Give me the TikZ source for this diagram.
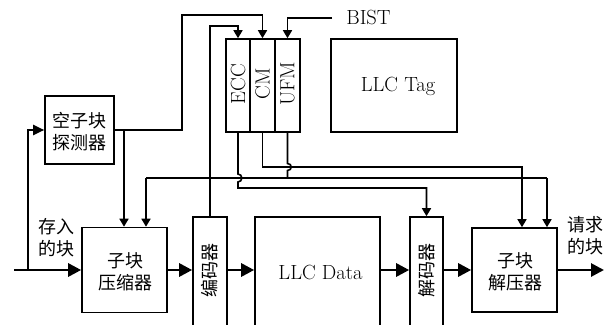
\documentclass[tikz,border=0pt]{standalone}
\usepackage{fontspec}
\newfontfamily\cjk{Noto Sans CJK SC}
\usetikzlibrary{arrows.meta}
\begin{document}
\begin{tikzpicture}[x=1pt,y=-1pt,
  box/.style={draw,line width=1.6pt,inner sep=0pt},
  latin/.style={font=\fontsize{20.5}{24}\selectfont,inner sep=0pt},
  cjkt/.style={font=\fontsize{18}{22}\selectfont\cjk,inner sep=0pt,align=center},
  wire/.style={line width=1.6pt},
  sarr/.style={-{Triangle[length=8pt,width=9pt]}},
  marr/.style={-{Triangle[length=11pt,width=10pt]}},
  data/.style={line width=2.8pt,-{Triangle[length=13pt,width=13pt]}}]
\clip (0,0) rectangle (610,324);
\fill[white] (0,0) rectangle (610,324);
% boxes
\node[box,minimum width=69pt,minimum height=68pt] (det) at (79.5,130) {};
\node[cjkt] at (79.5,132) {空子块\\探测器};
\node[box,minimum width=85pt,minimum height=85pt] (comp) at (124.5,270) {};
\node[cjkt] at (125,272) {子块\\压缩器};
\node[box,minimum width=34pt,minimum height=126pt] (enc) at (210,280) {};
\node[cjkt,rotate=90] at (210,270.5) {编码器};
\node[box,minimum width=125pt,minimum height=126pt] (llc) at (317.5,280) {};
\node[latin] at (320.5,272) {LLC Data};
\node[box,minimum width=33pt,minimum height=126pt] (dec) at (426.5,280) {};
\node[cjkt,rotate=90] at (427,270) {解码器};
\node[box,minimum width=85pt,minimum height=84pt] (decomp) at (514.5,270) {};
\node[cjkt] at (515,272) {子块\\解压器};
\node[box,minimum width=24pt,minimum height=93pt] (ecc) at (238,85.5) {};
\node[latin,rotate=90] at (238,84) {ECC};
\node[box,minimum width=25pt,minimum height=93pt] (cm) at (262.5,85.5) {};
\node[latin,rotate=90] at (262.5,84) {CM};
\node[box,minimum width=25pt,minimum height=93pt] (ufm) at (287.5,85.5) {};
\node[latin,rotate=90] at (287.5,84) {UFM};
\node[box,minimum width=126pt,minimum height=93pt] (tag) at (394,85.5) {};
\node[latin] at (398,86) {LLC Tag};
% labels
\node[latin] (bist) at (368.5,17) {BIST};
\node[cjkt] (lin) at (56,238) {存入\\的块};
\node[cjkt] (lout) at (585,236) {请求\\的块};
% coordinates
\coordinate (in) at (14,270);
\coordinate (out) at (604,270);
\coordinate (br) at (28,270);
\coordinate (brtop) at (28,130);
\coordinate (j1) at (124,130);
\coordinate (up1) at (182,15);
\coordinate (t26) at (238,26);
\coordinate (bistend) at (332,18);
\coordinate (d1) at (522,167);
\coordinate (u1) at (287.5,178);
\coordinate (cL) at (146,178);
\coordinate (cR) at (547,178);
\coordinate (e1) at (238,188);
% data path
\draw[data] (in) -- (comp.west);
\draw[data] (comp.east) -- (comp.east -| enc.west);
\draw[data] (comp.east -| enc.east) -- (comp.east -| llc.west);
\draw[data] (comp.east -| llc.east) -- (comp.east -| dec.west);
\draw[data] (comp.east -| dec.east) -- (decomp.west);
\draw[data] (decomp.east) -- (out);
% wires
\draw[wire,marr,line width=2.2pt] (br) -- (brtop) -- (det.west);
\draw[wire,sarr] (det.east) -| (up1) -| (cm.north);
\draw[wire,sarr] (j1) -- (j1 |- comp.north);
\draw[wire,sarr] (enc.north) |- (t26) -- (ecc.north);
\draw[wire,sarr] (bistend) -| (ufm.north);
\draw[wire,sarr] (cm.south) |- (d1) -- (d1 |- decomp.north);
\draw[wire] (ufm.south) -- (287.5,163.5) .. controls (292.5,163.5) and (292.5,170.5) .. (287.5,170.5) -- (u1);
\draw[wire,sarr] (cL) -- (cL |- comp.north);
\draw[wire] (cL) -- (cR);
\draw[wire,sarr] (cR) -- (cR |- decomp.north);
\draw[wire,sarr] (ecc.south) -- (238,174) .. controls (243,174) and (243,182) .. (238,182) -- (e1) -| (dec.north);
\end{tikzpicture}
\end{document}
